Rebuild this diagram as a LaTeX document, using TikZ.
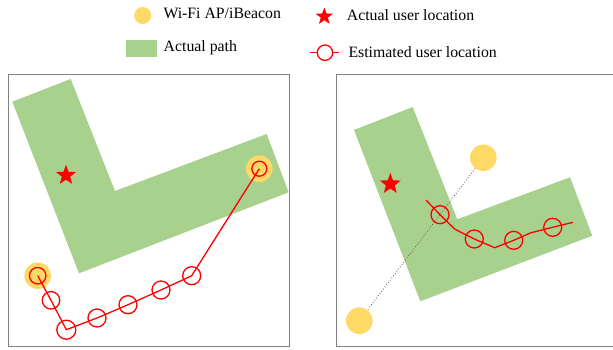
\documentclass[tikz,border=0pt]{standalone}
\usepackage{fontspec}
\setmainfont{Liberation Serif}
\usetikzlibrary{shapes.geometric}
\definecolor{pathgreen}{HTML}{A9D18E}
\definecolor{apyellow}{HTML}{FFD966}
\definecolor{boxgray}{HTML}{808080}
\begin{document}
\begin{tikzpicture}[x=1pt,y=-1pt,
  ap/.style={circle, fill=apyellow, minimum size=26.6pt, inner sep=0pt},
  est/.style={circle, draw=red, line width=1.3pt, minimum size=18pt, inner sep=0pt},
  truth/.style={star, star points=5, star point ratio=2.4, fill=red, minimum size=21pt, inner sep=0pt},
  trace/.style={draw=red, line width=1.3pt, line join=round},
  link/.style={draw=black!65, line width=0.8pt, dotted},
  lbl/.style={anchor=base west, font=\fontsize{15.8}{18}\selectfont, inner sep=0pt},
  frame/.style={draw=boxgray, line width=1pt},
  region/.style={fill=pathgreen}]
\useasboundingbox (0,0) rectangle (613,349);
\fill[white] (0,0) rectangle (613,349);

% ---------- legend ----------
\node[ap, minimum size=17pt] (lgap) at (142.7,15.5) {};
\node[lbl] (lgaptxt) at (163.3,18.5) {Wi-Fi AP/iBeacon};
\fill[region] (126,40) rectangle (157.3,57.3);
\node[lbl] (lgpathtxt) at (163.5,51.7) {Actual path};
\node[truth, minimum size=18pt] (lgstar) at (324.3,16.5) {};
\node[lbl] (lgstartxt) at (346.7,20.7) {Actual user location};
\coordinate (lgl) at (310,52.7);
\coordinate (lgr) at (339.3,52.7);
\node[est, minimum size=15.4pt] (lgest) at (325,52.7) {};
\draw[trace] (lgl) -- (lgest.west) (lgest.east) -- (lgr);
\node[lbl] (lgesttxt) at (348.3,57.2) {Estimated user location};

% ---------- left panel ----------
\draw[frame] (8.3,74) rectangle (289,346.7);
\fill[region] (12.3,101.7) -- (70.7,79) -- (115,191) -- (266.7,134) -- (288.7,192.3) -- (79,273.3) -- cycle;
\node[truth] (ls) at (66,175.3) {};
\node[ap] (la1) at (37.7,275.7) {};
\node[ap] (la2) at (259.3,168.7) {};
\node[est, minimum size=16.5pt] (l1) at (37.7,275.7) {};
\node[est, minimum size=17.5pt] (l2) at (51,300.3) {};
\node[est, minimum size=19pt] (l3) at (66.3,329.7) {};
\node[est] (l4) at (97,318) {};
\node[est] (l5) at (128,304.7) {};
\node[est] (l6) at (161,290) {};
\node[est] (l7) at (191.7,275.7) {};
\node[est, minimum size=15pt] (l8) at (259.3,168.7) {};
\draw[trace] (l1.center) -- (l2.center) -- (l3.center) -- (l4.center) -- (l5.center) -- (l6.center) -- (l7.center) -- (l8.center);

% ---------- right panel ----------
\draw[frame] (336.7,74.3) rectangle (620,346.7);
\fill[region] (354,130) -- (412.7,107) -- (457.3,219.3) -- (570,177.3) -- (592.3,235.7) -- (420.3,301.3) -- cycle;
\node[truth, minimum size=22pt] (rs) at (390.3,184) {};
\node[ap] (ra1) at (483.3,157.7) {};
\node[ap] (ra2) at (359.3,320.7) {};
\draw[link] (ra1) -- (ra2);
\coordinate (rstart) at (426,200);
\coordinate (rb1) at (455,229.3);
\coordinate (rb2) at (494.7,247.7);
\coordinate (rb3) at (531,232.7);
\coordinate (rend) at (573,222.3);
\node[est] (r1) at (440,214.7) {};
\node[est] (r2) at (474.3,239) {};
\node[est] (r3) at (513.7,240.3) {};
\node[est] (r4) at (552.7,227.3) {};
\draw[trace] (rstart) -- (r1.center) -- (rb1) -- (r2.center) -- (rb2) -- (r3.center) -- (rb3) -- (r4.center) -- (rend);
\end{tikzpicture}
\end{document}
